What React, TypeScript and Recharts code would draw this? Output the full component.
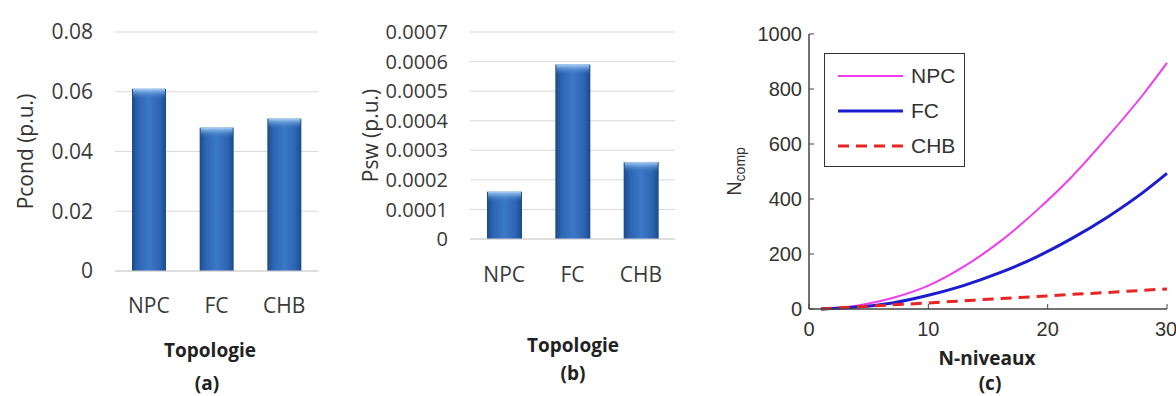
import React from "react";
import {
  BarChart,
  Bar,
  LineChart,
  Line,
  XAxis,
  YAxis,
  CartesianGrid,
  Legend,
} from "recharts";

// (a) and (b): losses per topology
const topologies = ["NPC", "FC", "CHB"];
const condLoss = [0.061, 0.048, 0.051];
const switchLoss = [0.00016, 0.00059, 0.00026];
const condTicks = [0, 0.02, 0.04, 0.06, 0.08];
const swTicks = [0, 0.0001, 0.0002, 0.0003, 0.0004, 0.0005, 0.0006, 0.0007];

// (c): component count vs number of levels
const levels = [1, 4, 7, 10, 13, 16, 19, 22, 25, 28, 30];
const npcCount = [0, 12, 40, 85, 155, 245, 355, 480, 625, 780, 895];
const fcCount = [0, 7, 22, 50, 86, 132, 188, 256, 334, 424, 493];
const chbCount = [0, 8, 15, 22, 30, 38, 45, 53, 60, 68, 73];
const levelTicks = [0, 10, 20, 30];
const compTicks = [0, 200, 400, 600, 800, 1000];

const seriesStyle = [
  { key: "npc", name: "NPC", color: "#f03cf0", width: 2, dash: undefined },
  { key: "fc", name: "FC", color: "#1c1cd0", width: 3, dash: undefined },
  { key: "chb", name: "CHB", color: "#e82424", width: 3, dash: "11 7" },
];

const condData = topologies.map((name, i) => ({ name, value: condLoss[i] }));
const swData = topologies.map((name, i) => ({ name, value: switchLoss[i] }));
const compData = levels.map((n, i) => ({
  n,
  npc: npcCount[i],
  fc: fcCount[i],
  chb: chbCount[i],
}));

const officeFont = "'Open Sans', 'Noto Sans', sans-serif";
const matFont = "'Liberation Sans', Arial, sans-serif";

// bar with the glossy look of the office charts (gradients kept inside the bar)
const GlossyBar = (props: any) => {
  const { x, y, width, height, index, chartId } = props;
  if (!height || height <= 0) return <g />;
  const body = `body-${chartId}-${index}`;
  const top = `top-${chartId}-${index}`;
  return (
    <g>
      <defs>
        <linearGradient id={body} x1="0" y1="0" x2="1" y2="0">
          <stop offset="0%" stopColor="#1b4a8c" />
          <stop offset="18%" stopColor="#2d65b2" />
          <stop offset="50%" stopColor="#3b78c8" />
          <stop offset="82%" stopColor="#2d65b2" />
          <stop offset="100%" stopColor="#1b4a8c" />
        </linearGradient>
        <linearGradient id={top} x1="0" y1="0" x2="0" y2="1">
          <stop offset="0%" stopColor="#a9d2f6" />
          <stop offset="100%" stopColor="#3b78c8" stopOpacity={0} />
        </linearGradient>
      </defs>
      <rect x={x} y={y} width={width} height={height} fill={`url(#${body})`} />
      <rect
        x={x + 1}
        y={y}
        width={width - 2}
        height={Math.min(10, height)}
        fill={`url(#${top})`}
      />
    </g>
  );
};

// rotated y axis title, placed from the axis box
const SideTitle = (props: any) => {
  const { viewBox, value, dx, font, size, sub } = props;
  const cx = viewBox.x + dx;
  const cy = viewBox.y + viewBox.height / 2;
  return (
    <text
      x={cx}
      y={cy}
      transform={`rotate(-90, ${cx}, ${cy})`}
      textAnchor="middle"
      dominantBaseline="central"
      fontFamily={font}
      fontSize={size}
      fill="#333"
    >
      {value}
      {sub ? (
        <tspan dy={6} fontSize={size * 0.7}>
          {sub}
        </tspan>
      ) : null}
    </text>
  );
};

const Caption = ({ cx, cy, text }: { cx: number; cy: number; text: string }) => (
  <div
    style={{
      position: "absolute",
      left: cx - 100,
      top: cy - 11,
      width: 200,
      lineHeight: "22px",
      textAlign: "center",
      fontFamily: officeFont,
      fontWeight: 700,
      fontSize: 19,
      color: "#222",
    }}
  >
    {text}
  </div>
);

const CompLegend = () => (
  <div
    style={{
      width: 141,
      height: 114,
      boxSizing: "border-box",
      border: "1.5px solid #333",
      background: "#fff",
      paddingTop: 4,
    }}
  >
    {seriesStyle.map((s) => (
      <div
        key={s.key}
        style={{ display: "flex", alignItems: "center", height: 35 }}
      >
        <svg width={86} height={8} style={{ flex: "none" }}>
          <line
            x1={13}
            x2={78}
            y1={4}
            y2={4}
            stroke={s.color}
            strokeWidth={s.width}
            strokeDasharray={s.dash}
          />
        </svg>
        <span style={{ fontFamily: matFont, fontSize: 21, color: "#333" }}>
          {s.name}
        </span>
      </div>
    ))}
  </div>
);

export default function App() {
  const officeTick = { fontFamily: officeFont, fontSize: 21, fill: "#3a3a3a" };
  const matTick = { fontFamily: matFont, fontSize: 20, fill: "#333" };
  return (
    <div
      style={{
        position: "absolute",
        left: 0,
        top: 0,
        width: 1176,
        height: 396,
        background: "#fff",
        overflow: "hidden",
      }}
    >
      {/* (a) conduction losses */}
      <div style={{ position: "absolute", left: 0, top: 0 }}>
        <BarChart
          width={330}
          height={396}
          data={condData}
          margin={{ top: 32, right: 12, left: 0, bottom: 95 }}
          barSize={34}
        >
          <CartesianGrid vertical={false} stroke="#d9d9d9" />
          <XAxis
            dataKey="name"
            height={30}
            axisLine={{ stroke: "#cfcfcf" }}
            tickLine={false}
            tickSize={0}
            tickMargin={27}
            tick={officeTick}
          />
          <YAxis
            width={115}
            domain={[0, 0.08]}
            ticks={condTicks}
            interval={0}
            axisLine={false}
            tickLine={false}
            tickSize={0}
            tickMargin={22}
            tick={officeTick}
            label={(p: any) => (
              <SideTitle
                {...p}
                value="Pcond (p.u.)"
                dx={25}
                font={officeFont}
                size={21}
              />
            )}
          />
          <Bar
            dataKey="value"
            fill="#2f6bb8"
            shape={(p: any) => <GlossyBar {...p} chartId="a" />}
            isAnimationActive={false}
          />
        </BarChart>
      </div>

      {/* (b) switching losses */}
      <div style={{ position: "absolute", left: 340, top: 0 }}>
        <BarChart
          width={345}
          height={396}
          data={swData}
          margin={{ top: 32, right: 10, left: 0, bottom: 117 }}
          barSize={35}
        >
          <CartesianGrid vertical={false} stroke="#d9d9d9" />
          <XAxis
            dataKey="name"
            height={40}
            axisLine={{ stroke: "#cfcfcf" }}
            tickLine={false}
            tickSize={0}
            tickMargin={28}
            tick={officeTick}
          />
          <YAxis
            width={130}
            domain={[0, 0.0007]}
            ticks={swTicks}
            interval={0}
            axisLine={false}
            tickLine={false}
            tickSize={0}
            tickMargin={22}
            tick={{ ...officeTick, fontSize: 20 }}
            label={(p: any) => (
              <SideTitle
                {...p}
                value="Psw (p.u.)"
                dx={30}
                font={officeFont}
                size={21}
              />
            )}
          />
          <Bar
            dataKey="value"
            fill="#2f6bb8"
            shape={(p: any) => <GlossyBar {...p} chartId="b" />}
            isAnimationActive={false}
          />
        </BarChart>
      </div>

      {/* (c) number of components */}
      <div style={{ position: "absolute", left: 720, top: 0 }}>
        <LineChart
          width={456}
          height={396}
          data={compData}
          margin={{ top: 34, right: 9, left: 0, bottom: 57 }}
        >
          <XAxis
            dataKey="n"
            type="number"
            domain={[0, 30]}
            ticks={levelTicks}
            height={30}
            axisLine={{ stroke: "#444", strokeWidth: 1.5 }}
            tickLine={{ stroke: "#444" }}
            tickSize={-5}
            tickMargin={18}
            tick={matTick}
          />
          <XAxis
            xAxisId="top"
            orientation="top"
            type="number"
            domain={[0, 30]}
            ticks={levelTicks}
            height={0}
            axisLine={{ stroke: "#444", strokeWidth: 1.5 }}
            tickLine={{ stroke: "#444" }}
            tickSize={-5}
            tick={false}
          />
          <YAxis
            domain={[0, 1000]}
            ticks={compTicks}
            width={89}
            axisLine={{ stroke: "#444", strokeWidth: 1.5 }}
            tickLine={{ stroke: "#444" }}
            tickSize={-5}
            tickMargin={12}
            tick={matTick}
            label={(p: any) => (
              <SideTitle
                {...p}
                value="N"
                sub="comp"
                dx={14}
                font={matFont}
                size={20}
              />
            )}
          />
          <YAxis
            yAxisId="right"
            orientation="right"
            domain={[0, 1000]}
            ticks={compTicks}
            width={0}
            axisLine={{ stroke: "#444", strokeWidth: 1.5 }}
            tickLine={{ stroke: "#444" }}
            tickSize={-5}
            tick={false}
          />
          <Legend
            layout="vertical"
            align="center"
            verticalAlign="middle"
            wrapperStyle={{ left: 104, top: 53, width: 141 }}
            content={() => <CompLegend />}
          />
          {seriesStyle.map((s) => (
            <Line
              key={s.key}
              type="monotone"
              dataKey={s.key}
              name={s.name}
              stroke={s.color}
              strokeWidth={s.width}
              strokeDasharray={s.dash}
              dot={false}
              isAnimationActive={false}
            />
          ))}
        </LineChart>
      </div>

      <Caption cx={210} cy={350} text="Topologie" />
      <Caption cx={207} cy={383} text="(a)" />
      <Caption cx={573} cy={345} text="Topologie" />
      <Caption cx={573} cy={373} text="(b)" />
      <Caption cx={987} cy={358} text="N-niveaux" />
      <Caption cx={990} cy={383} text="(c)" />
    </div>
  );
}
